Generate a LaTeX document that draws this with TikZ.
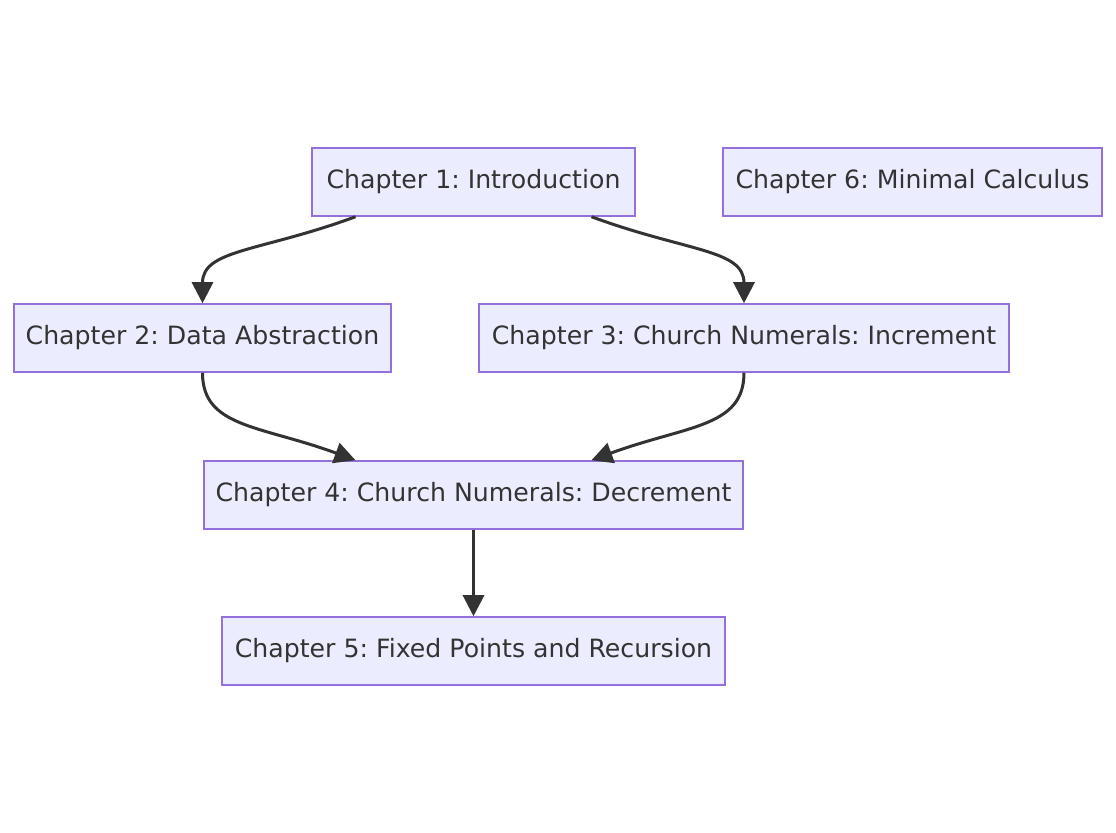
\documentclass[tikz,border=0pt]{standalone}
\usepackage{fontspec}
\setmainfont{DejaVu Sans}
\usetikzlibrary{arrows.meta,positioning,calc}
\definecolor{boxFill}{HTML}{ECECFF}
\definecolor{boxEdge}{HTML}{9370DB}
\definecolor{inkDark}{HTML}{333333}
\frenchspacing

\begin{document}
\begin{tikzpicture}[x=0.5pt, y=-0.5pt,
    chapbox/.style={draw=boxEdge, fill=boxFill, line width=0.75pt, inner sep=0pt,
      minimum height=34pt, text=inkDark, font=\fontsize{12.6pt}{15pt}\selectfont},
    flow/.style={draw=inkDark, line width=1.5pt, -{Triangle[length=10.5pt, width=10.5pt]}}]
      \useasboundingbox (0,0) rectangle (1116,833);

      \node (chapOne) [chapbox, minimum width=161.5pt] at (473.5,182) {Chapter 1: Introduction};
      \node (chapSix) [chapbox, minimum width=189.5pt] at (912.5,182) {Chapter 6: Minimal Calculus};
      \node (chapTwo) [chapbox, minimum width=188.5pt] at (202.5,338) {Chapter 2: Data Abstraction};
      \node (chapThree) [chapbox, minimum width=265pt] at (744,338) {Chapter 3: Church Numerals: Increment};
      \node (chapFour) [chapbox, minimum width=269.5pt] at (473.5,495) {Chapter 4: Church Numerals: Decrement};
      \node (chapFive) [chapbox, minimum width=251.5pt] at (473.5,651) {Chapter 5: Fixed Points and Recursion};

      \draw[flow] ($(chapOne.south)+(-118,0)$) .. controls +(-95,35) and +(0,-54) .. (chapTwo.north);
      \draw[flow] ($(chapOne.south)+(118,0)$) .. controls +(95,35) and +(0,-54) .. (chapThree.north);
      \draw[flow] (chapTwo.south) .. controls +(0,55) and +(-95,-35) .. ($(chapFour.north)+(-118,0)$);
      \draw[flow] (chapThree.south) .. controls +(0,55) and +(95,-35) .. ($(chapFour.north)+(118,0)$);
      \draw[flow] (chapFour) -- (chapFive);
  \end{tikzpicture}
\end{document}
